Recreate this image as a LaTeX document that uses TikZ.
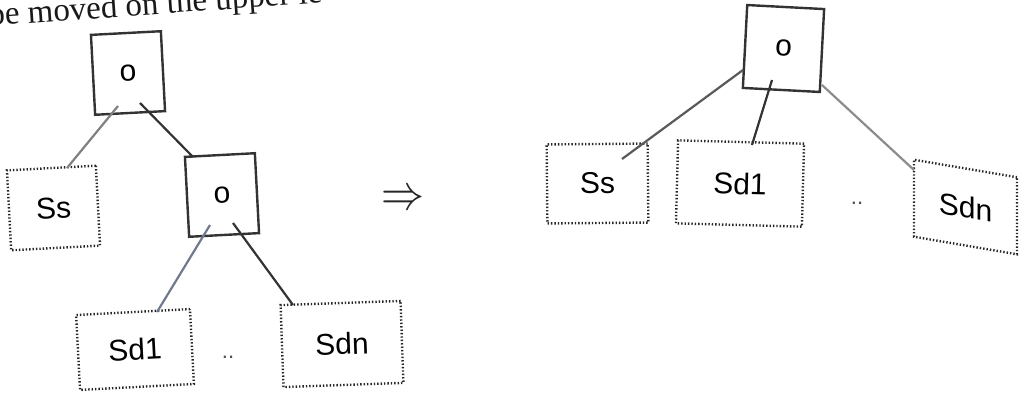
\documentclass[tikz,border=0pt]{standalone}
\usepackage{fontspec}
\setmainfont{Liberation Serif}
\setsansfont{Liberation Sans}

\definecolor{greyblue}{RGB}{112,122,142}

\begin{document}
\begin{tikzpicture}[x=1pt, y=1pt,
					line width=2.2pt,
					op node/.style={rectangle, draw=black!80, line width=2.4pt, inner sep=0pt,
						minimum width=70pt, minimum height=80pt,
						font=\sffamily\fontsize{30}{30}\selectfont},
					set node/.style={rectangle, draw=black!85, line width=2.4pt,
						dash pattern=on 1.4pt off 2pt, inner sep=0pt,
						font=\sffamily\fontsize{30}{30}\selectfont},
					dots/.style={font=\sffamily\fontsize{22}{22}\selectfont, text=black!70},
					light/.style={draw=black!50},
					dark/.style={draw=black!80}]

  \useasboundingbox (0,0) rectangle (1027,-394);

  % line of text running off the top
  \node[anchor=base west, rotate=4, inner sep=0pt, text=black!90,
        font=\fontsize{33}{33}\selectfont] (caption) at (-12,-26) {be moved on the upper le};

  % tree before the move
  \node[op node, rotate=3] (L) at (128,-73) {o};
  \node[set node, rotate=3, minimum width=89pt, minimum height=80pt] (LSs) at (53.5,-208) {Ss};
  \node[op node, rotate=3] (LO) at (222,-195) {o};
  \node[set node, rotate=3, minimum width=114pt, minimum height=75pt] (LSd1) at (135,-349.5) {Sd1};
  \node[set node, rotate=2, minimum width=120pt, minimum height=82pt] (LSdn) at (342,-344) {Sdn};
  \node[dots] (Ldots) at (228,-357) {..};

  \path
    ([shift={(-10,-33)}]L.center) edge[light] ([shift={(13.5,40)}]LSs.center)
    ([shift={(12,-30)}]L.center) edge[dark] ([shift={(-29,38)}]LO.center)
    ([shift={(-12,-30)}]LO.center) edge[draw=greyblue] ([shift={(22,37.5)}]LSd1.center)
    ([shift={(11,-28)}]LO.center) edge[dark] ([shift={(-49,39)}]LSdn.center);

  \node[xscale=4.3, yscale=5, text=black!85] (arrow) at (403,-200) {$\Rightarrow$};

  % tree after the move
  \node[op node, rotate=-3, minimum width=77pt, minimum height=83pt] (R) at (783.5,-48.5) {o};
  \node[set node, rotate=0.5, minimum width=101pt, minimum height=79pt] (RSs) at (597.5,-183.5) {Ss};
  \node[set node, rotate=-1.5, minimum width=126pt, minimum height=83pt] (RSd1) at (740,-183.5) {Sd1};
  \node[set node, yslant=-0.17, minimum width=103pt, minimum height=77pt] (RSdn) at (965.5,-207) {Sdn};
  \node[dots] (Rdots) at (857,-203) {..};

  \path
    ([shift={(-40.5,-21.5)}]R.center) edge[draw=black!65] ([shift={(24.5,24.5)}]RSs.center)
    ([shift={(-11.5,-31.5)}]R.center) edge[dark] ([shift={(12,38.5)}]RSd1.center)
    ([shift={(38.5,-36.5)}]R.center) edge[draw=black!45] ([shift={(-51.5,37)}]RSdn.center);
\end{tikzpicture}
\end{document}
